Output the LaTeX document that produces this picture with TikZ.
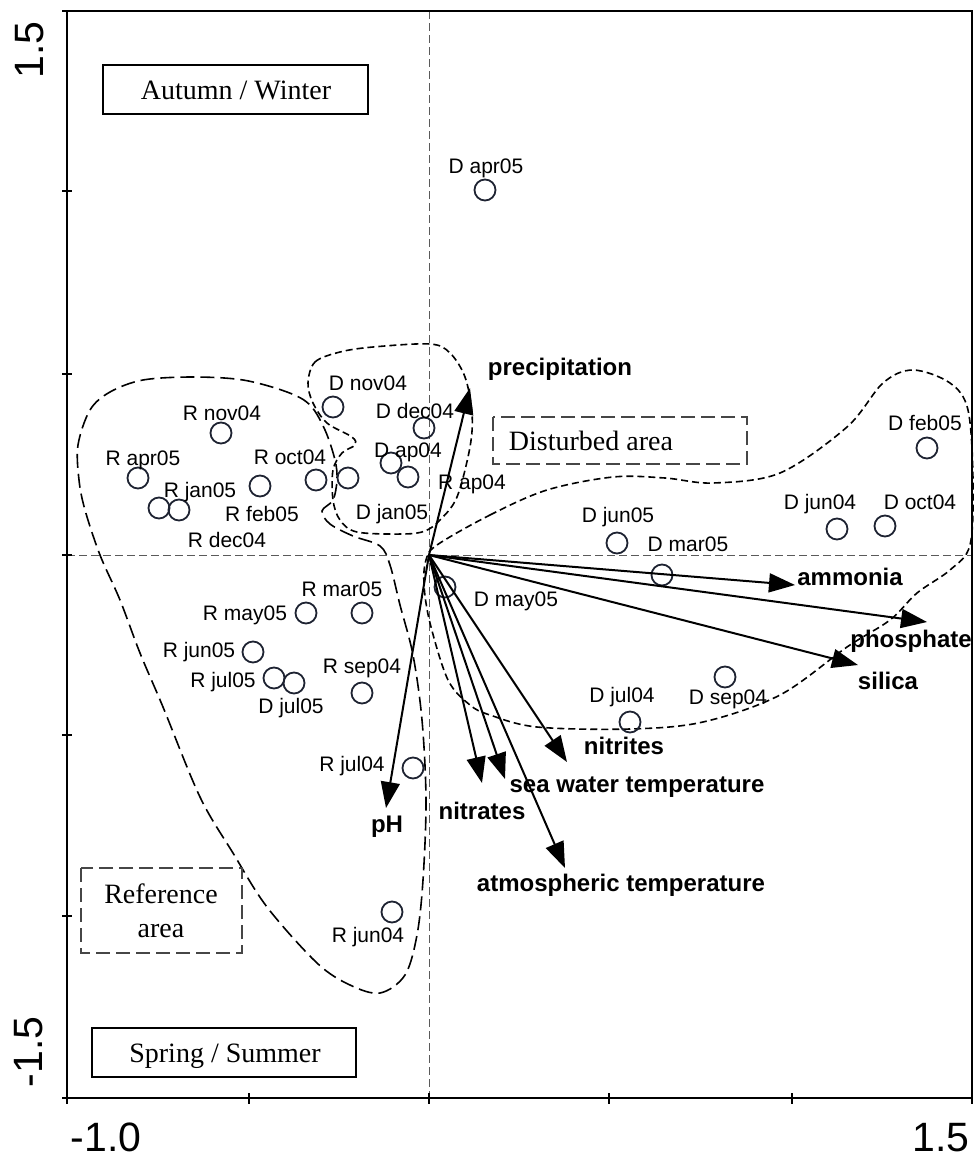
\documentclass[tikz,border=0pt]{standalone}
\usepackage{fontspec}
\setmainfont{Liberation Serif}
\setsansfont{Liberation Sans}
\usetikzlibrary{arrows.meta}
\definecolor{ptc}{RGB}{30,35,50}
\definecolor{axc}{RGB}{90,90,90}
\definecolor{boxc}{RGB}{70,70,70}
\tikzset{
  smp/.style={circle, draw=ptc, line width=1.8pt, minimum size=21pt, inner sep=0pt},
  lab/.style={font=\sffamily\fontsize{21}{21}\selectfont, inner sep=0pt, text height=15pt, text depth=0pt, anchor=center},
  var/.style={font=\sffamily\bfseries\fontsize{24}{24}\selectfont, inner sep=0pt, text height=17pt, text depth=0pt, anchor=center},
  vec/.style={line width=2pt, -{Triangle[length=26pt,width=19pt]}},
  ser/.style={font=\rmfamily\fontsize{28}{28}\selectfont, inner sep=0pt, text height=18.5pt, text depth=0pt, anchor=center},
  axnum/.style={font=\sffamily\fontsize{41}{41}\selectfont, inner sep=0pt, text height=29.5pt, text depth=0pt, anchor=center},
  axisdash/.style={draw=axc, line width=0.9pt, dash pattern=on 8pt off 4pt},
  refreg/.style={line width=1.6pt, dash pattern=on 14pt off 6pt},
  disreg/.style={line width=1.6pt, dash pattern=on 7pt off 4pt},
  boxdash/.style={draw=boxc, line width=1.6pt, dash pattern=on 14pt off 6pt},
  boxsolid/.style={draw=black, line width=2pt},
}
\begin{document}
\begin{tikzpicture}[x=1pt,y=-1pt]
\useasboundingbox (0,0) rectangle (977,1160);

% axes through origin
\draw[axisdash] (429,11) -- (429,1098);
\draw[axisdash] (67,555) -- (972,555);

% regions
\draw[refreg] plot[smooth cycle, tension=0.55] coordinates {
 (78,445) (90,410) (110,392) (143,380) (193,377) (243,380) (287,392) (310,405)
 (325,430) (335,460) (337,480) (333,500) (322,511) (330,524) (353,536) (380,546)
 (390,565) (400,605) (413,655) (422,720) (426,800) (423,880) (417,935) (405,975)
 (380,993) (350,985) (317,963) (267,907) (233,853) (200,797) (163,707) (140,653)
 (120,600) (100,555) (85,510) (79,480)};
\draw[disreg] plot[smooth cycle, tension=0.55] coordinates {
 (308,383) (315,362) (340,352) (373,347) (430,344) (450,353) (465,377) (472,413)
 (470,447) (457,497) (440,520) (425,531) (403,534) (357,532) (340,520) (333,500)
 (333,470) (342,453) (355,445) (352,437) (327,423) (313,403)};
\draw[disreg] plot[smooth cycle, tension=0.55] coordinates {
 (437,545) (490,515) (547,490) (613,477) (665,478) (713,483) (780,473) (847,427)
 (883,383) (913,370) (950,383) (968,410) (973,480) (970,545) (950,570) (917,593)
 (890,620) (847,647) (780,695) (703,722) (630,729) (537,727) (490,715) (470,705)
 (448,680) (430,623) (424,585) (426,560)};

% boxes
\draw[boxsolid] (103,65) rectangle (368,114);
\node[ser] (tAW) at (236,90) {Autumn / Winter};
\draw[boxsolid] (92,1028) rectangle (356,1077);
\node[ser] (tSS) at (225,1053) {Spring / Summer};
\draw[boxdash] (493,417) rectangle (747,464);
\node[ser] (tDA) at (591,441) {Disturbed area};
\draw[boxdash] (81,868) rectangle (242,953);
\node[ser] (tRA1) at (161,894) {Reference};
\node[ser, text height=12.5pt] (tRA2) at (161,931) {area};

% samples
\node[smp] (cDapr05) at (485,190) {};
\node[smp] (cDnov04) at (333,407) {};
\node[smp] (cDdec04) at (424,428) {};
\node[smp] (cDap04) at (391,463) {};
\node[smp] (cRap04) at (408,477) {};
\node[smp] (cDjan05) at (348,478) {};
\node[smp] (cRoct04) at (316,480) {};
\node[smp] (cRfeb05) at (260,486) {};
\node[smp] (cRnov04) at (221,433) {};
\node[smp] (cRapr05) at (138,478) {};
\node[smp] (cRjan05) at (159,508) {};
\node[smp] (cRdec04) at (179,510) {};
\node[smp] (cRmay05) at (306,613) {};
\node[smp] (cRmar05) at (362,613) {};
\node[smp] (cRjun05) at (253,652) {};
\node[smp] (cRjul05) at (274,678) {};
\node[smp] (cDjul05) at (294,683) {};
\node[smp] (cRsep04) at (362,693) {};
\node[smp] (cRjul04) at (413,768) {};
\node[smp] (cRjun04) at (392,912) {};
\node[smp] (cDmay05) at (445,587) {};
\node[smp] (cDjun05) at (617,543) {};
\node[smp] (cDmar05) at (662,575) {};
\node[smp] (cDjun04) at (837,529) {};
\node[smp] (cDoct04) at (885,526) {};
\node[smp] (cDfeb05) at (927,448) {};
\node[smp] (cDsep04) at (725,677) {};
\node[smp] (cDjul04) at (630,722) {};

% sample labels
\node[lab] (lDapr05) at (486,166) {D apr05};
\node[lab] (lDnov04) at (368,383) {D nov04};
\node[lab] (lDdec04) at (415,411) {D dec04};
\node[lab] (lDap04) at (408,450) {D ap04};
\node[lab] (lRap04) at (472,482) {R ap04};
\node[lab] (lDjan05) at (392,512) {D jan05};
\node[lab] (lRnov04) at (222,413) {R nov04};
\node[lab] (lRapr05) at (143,458) {R apr05};
\node[lab] (lRoct04) at (290,457) {R oct04};
\node[lab] (lRjan05) at (200,490) {R jan05};
\node[lab] (lRfeb05) at (262,514) {R feb05};
\node[lab] (lRdec04) at (227,540) {R dec04};
\node[lab] (lRmar05) at (342,589) {R mar05};
\node[lab] (lRmay05) at (245,613) {R may05};
\node[lab] (lRjun05) at (199,650) {R jun05};
\node[lab] (lRjul05) at (223,680) {R jul05};
\node[lab] (lDjul05) at (291,706) {D jul05};
\node[lab] (lRsep04) at (362,666) {R sep04};
\node[lab] (lRjul04) at (352,764) {R jul04};
\node[lab] (lRjun04) at (368,935) {R jun04};
\node[lab] (lDmay05) at (516,599) {D may05};
\node[lab] (lDjun05) at (618,515) {D jun05};
\node[lab] (lDmar05) at (688,544) {D mar05};
\node[lab] (lDjun04) at (820,502) {D jun04};
\node[lab] (lDoct04) at (920,502) {D oct04};
\node[lab] (lDfeb05) at (925,423) {D feb05};
\node[lab] (lDjul04) at (622,695) {D jul04};
\node[lab] (lDsep04) at (728,697) {D sep04};

% environmental vectors
\coordinate (O) at (429,555);
\coordinate (tPrec) at (470,388);
\coordinate (tAmm) at (795,585);
\coordinate (tPhos) at (927,622);
\coordinate (tSil) at (858,665);
\coordinate (tNitri) at (567,762);
\coordinate (tSea) at (505,779);
\coordinate (tNitra) at (482,783);
\coordinate (tAtm) at (565,868);
\coordinate (tpH) at (386,808);
\draw[vec] (O) -- (tPrec);
\draw[vec] (O) -- (tAmm);
\draw[vec] (O) -- (tPhos);
\draw[vec] (O) -- (tSil);
\draw[vec] (O) -- (tNitri);
\draw[vec] (O) -- (tSea);
\draw[vec] (O) -- (tNitra);
\draw[vec] (O) -- (tAtm);
\draw[vec] (O) -- (tpH);

\node[var] (vPrec) at (560,367) {precipitation};
\node[var] (vAmm) at (850,577) {ammonia};
\node[var] (vPhos) at (911,639) {phosphate};
\node[var] (vSil) at (888,681) {silica};
\node[var] (vNitri) at (624,746) {nitrites};
\node[var] (vSea) at (637,784) {sea water temperature};
\node[var] (vNitra) at (482,811) {nitrates};
\node[var] (vAtm) at (621,883) {atmospheric temperature};
\node[var] (vpH) at (387,824) {pH};

% frame and ticks
\draw[line width=2.6pt] (67,11) rectangle (972,1098);
\foreach \yy in {11,191,374,555,735,916,1098} \draw[line width=2pt] (62,\yy) -- (72,\yy);
\foreach \xx in {67,249,429,609,792,972} \draw[line width=2pt] (\xx,1093) -- (\xx,1104);

% axis numbers
\node[axnum, rotate=90] (ay1) at (29,50) {1.5};
\node[axnum, rotate=90] (ay2) at (28,1052) {-1.5};
\node[axnum] (ax1) at (106,1137) {-1.0};
\node[axnum] (ax2) at (941,1137) {1.5};
\end{tikzpicture}
\end{document}
